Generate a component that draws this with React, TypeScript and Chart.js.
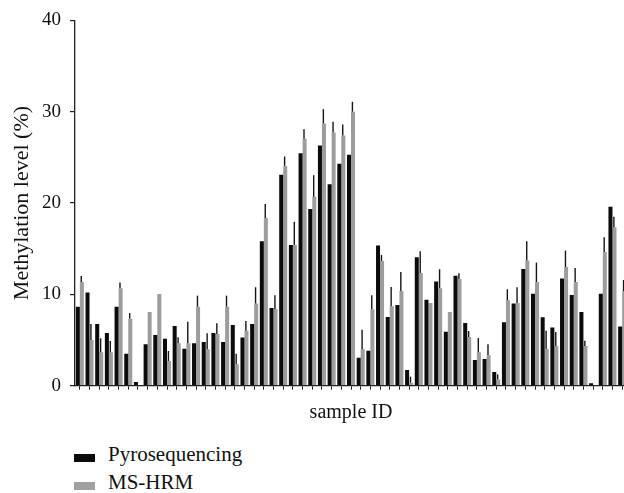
import React, { useEffect, useRef } from "react";
import { Chart, registerables } from "chart.js";

Chart.register(...registerables);

const sampleIds = [
  "1", "2", "3", "4", "5", "6", "7", "8", "9", "10",
  "11", "12", "13", "14", "15", "16", "17", "18", "19", "20",
  "21", "22", "23", "24", "25", "26", "27", "28", "29", "30",
  "31", "32", "33", "34", "35", "36", "37", "38", "39", "40",
  "41", "42", "43", "44", "45", "46", "47", "48", "49", "50",
  "51", "52", "53", "54", "55", "56", "57",
];

const pyrosequencing = [
  8.65, 10.2, 6.76, 5.77, 8.65, 3.5, 0.4, 4.53, 5.55, 5.15,
  6.54, 4.05, 4.64, 4.78, 5.77, 4.78, 6.65, 5.28, 6.76, 15.82,
  8.51, 23.09, 15.42, 25.46, 19.36, 26.3, 22.06, 24.29, 25.28, 3.07,
  3.84, 15.34, 7.53, 8.84, 1.72, 14.06, 9.42, 11.4, 5.92, 12.05,
  6.87, 2.81, 2.92, 1.5, 6.94, 8.99, 12.79, 10.08, 7.49, 6.36,
  11.73, 9.94, 8.07, 0.26, 10.08, 19.6, 6.47,
];

const msHrm = [
  11.35, 5.0, 3.65, 3.65, 10.67, 7.34, 0, 8.07, 10.05, 2.7,
  4.64, 4.64, 8.65, 4.0, 5.66, 8.65, 2.34, 6.03, 9.0, 18.37,
  8.37, 24.07, 15.42, 27.03, 20.68, 28.71, 27.73, 27.4, 30.0, 4.03,
  8.37, 13.66, 8.69, 10.37, 0.33, 12.35, 9.06, 10.67, 8.07, 11.69,
  5.33, 3.65, 3.34, 0.69, 9.35, 9.06, 13.7, 11.36, 4.02, 4.35,
  13.0, 11.36, 4.35, 0, 14.65, 17.35, 10.34,
];

const msHrmError = [
  0.67, 1.75, 1.54, 1.25, 0.63, 0.62, 0, 0, 0, 1.1,
  0.66, 2.36, 1.21, 1.73, 1.17, 1.21, 1.16, 1.05, 1.78, 1.53,
  1.53, 1.03, 2.52, 1.06, 2.37, 1.57, 1.17, 1.2, 1.09, 2.1,
  1.53, 0.66, 2.11, 2.09, 0.66, 2.37, 0, 2.08, 0, 0.62,
  0.66, 1.57, 1.19, 0.55, 1.21, 1.72, 2.12, 2.12, 2.01, 1.53,
  1.79, 1.54, 0.58, 0, 1.61, 1.15, 1.24,
];

const yTicks = [0, 10, 20, 30, 40];

const seriesNames = ["Pyrosequencing", "MS-HRM"];
const seriesColors = ["#0b0b0b", "#9d9d9f"];

const FONT = "'Liberation Serif', 'Times New Roman', serif";

const errorBarPlugin = {
  id: "msHrmErrorBars",
  afterDatasetsDraw(chart: any) {
    const meta = chart.getDatasetMeta(1);
    const yScale = chart.scales.y;
    const ctx = chart.ctx;
    ctx.save();
    ctx.strokeStyle = "#151515";
    ctx.lineWidth = 1.4;
    meta.data.forEach((bar: any, i: number) => {
      const e = msHrmError[i];
      if (!e) return;
      const top = yScale.getPixelForValue(msHrm[i] + e);
      ctx.beginPath();
      ctx.moveTo(bar.x - 0.6, bar.y);
      ctx.lineTo(bar.x - 0.6, top);
      ctx.stroke();
    });
    ctx.restore();
  },
};

export default function App() {
  const canvasRef = useRef<HTMLCanvasElement | null>(null);

  useEffect(() => {
    document.body.style.background = "#ffffff";
    const canvas = canvasRef.current;
    if (!canvas) return;
    const chart = new Chart(canvas, {
      type: "bar",
      data: {
        labels: sampleIds,
        datasets: [
          {
            label: seriesNames[0],
            data: pyrosequencing,
            backgroundColor: seriesColors[0],
            borderWidth: 0,
            categoryPercentage: 0.83,
            barPercentage: 1.0,
          },
          {
            label: seriesNames[1],
            data: msHrm,
            backgroundColor: seriesColors[1],
            borderWidth: 0,
            categoryPercentage: 0.83,
            barPercentage: 1.0,
          },
        ],
      },
      options: {
        responsive: false,
        animation: false,
        devicePixelRatio: 1,
        layout: { padding: { top: 20, right: 7, bottom: 5.3, left: 0 } },
        plugins: {
          legend: { display: false },
          tooltip: { enabled: false },
        },
        scales: {
          x: {
            type: "category",
            offset: true,
            grid: {
              display: true,
              offset: false,
              drawOnChartArea: false,
              drawTicks: true,
              tickLength: 4,
              color: "#222222",
              lineWidth: 1,
            },
            border: { display: true, color: "#222222", width: 1.3 },
            ticks: { display: false },
            title: {
              display: true,
              text: "sample ID",
              color: "#111111",
              font: { family: FONT, size: 20 },
              padding: { top: 11, bottom: 0 },
            },
          },
          y: {
            min: 0,
            max: 40,
            afterBuildTicks: (scale: any) => {
              scale.ticks = yTicks.map((v) => ({ value: v }));
            },
            afterFit: (scale: any) => {
              scale.width = 75;
            },
            grid: {
              display: true,
              drawOnChartArea: false,
              drawTicks: true,
              tickLength: 5,
              color: "#222222",
              lineWidth: 1.2,
            },
            border: { display: true, color: "#222222", width: 1.3 },
            ticks: {
              color: "#111111",
              padding: 9,
              font: { family: FONT, size: 19 },
            },
            title: {
              display: true,
              text: "Methylation level (%)",
              color: "#111111",
              font: { family: FONT, size: 22 },
              padding: { top: 9, bottom: 0 },
            },
          },
        },
      },
      plugins: [errorBarPlugin],
    });
    return () => chart.destroy();
  }, []);

  const legendText: React.CSSProperties = {
    position: "absolute",
    left: 108,
    fontFamily: FONT,
    fontSize: 21,
    lineHeight: "21px",
    color: "#111111",
    whiteSpace: "nowrap",
  };
  const swatch: React.CSSProperties = {
    position: "absolute",
    left: 74,
    width: 21,
    height: 8,
  };

  return (
    <div
      style={{
        position: "fixed",
        left: 0,
        top: 0,
        width: 624,
        height: 493,
        overflow: "hidden",
        background: "#ffffff",
      }}
    >
      <canvas ref={canvasRef} width={634} height={430} style={{ display: "block" }} />
      <div style={{ ...swatch, top: 454, background: seriesColors[0] }} />
      <div style={{ ...legendText, top: 444 }}>{seriesNames[0]}</div>
      <div style={{ ...swatch, top: 481.5, background: "#a0a0a2" }} />
      <div style={{ ...legendText, top: 471.7 }}>{seriesNames[1]}</div>
    </div>
  );
}
